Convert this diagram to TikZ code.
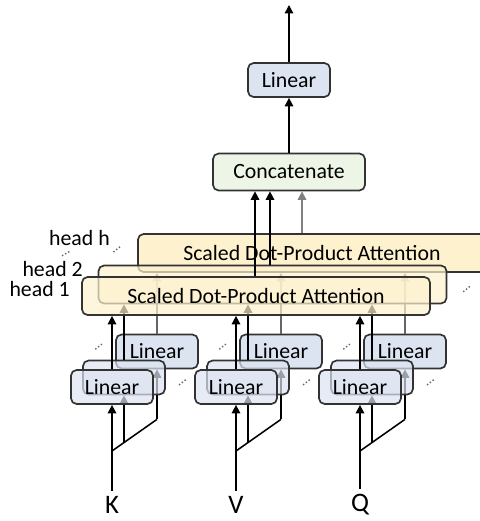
\documentclass[tikz,border=0pt]{standalone}
\usepackage{fontspec}
\setmainfont{Carlito}
\usepackage{tikz}
\usetikzlibrary{arrows.meta, positioning, calc}
\definecolor{linblue}{RGB}{220,227,241}
\definecolor{attyellow}{RGB}{253,241,206}
\definecolor{catgreen}{RGB}{237,245,231}

\begin{document}
\begin{tikzpicture}[x=0.025cm, y=-0.025cm, font=\fontsize{15.5}{18}\selectfont,
  box/.style={draw=black!80, line width=1.2pt, rounded corners=4pt, inner sep=0pt},
  linbox/.style={box, fill=linblue, minimum width=2.05cm, minimum height=0.85cm},
  attbox/.style={box, fill=attyellow, minimum width=8.7cm, minimum height=0.95cm},
  catbox/.style={box, fill=catgreen, minimum width=3.8cm, minimum height=0.925cm},
  ghost/.style={fill opacity=0.7, text opacity=1},
  flow/.style={line width=1.1pt, -{Triangle[length=6pt,width=6pt]}},
  wire/.style={line width=1.1pt},
  dots/.style={line width=1pt, black!60, dash pattern=on 1pt off 1.5pt}]
  \useasboundingbox (0,0) rectangle (480,521);

  % head h, at the back
  \coordinate (a1) at (256,296);
  \node[attbox] (atth) at ($(a1)+(56,-43)$) {Scaled Dot-Product Attention};

  % inputs and the back row of linear layers
  \foreach \n/\x in {K/112, V/236, Q/360} {
    \node[font=\fontsize{19}{22}\selectfont, inner sep=4pt] (in\n) at (\x,505) {\n};
    \coordinate (f\n) at (\x,387);
    \coordinate (br\n) at (\x,451);
    \node[linbox] (linh\n) at ($(f\n)+(45,-35.5)$) {Linear};
    \coordinate (kn\n) at ($(linh\n.south)+(0,50)$);
    \draw[wire] (br\n) -- (kn\n);
    \draw[flow] (kn\n) -- (linh\n.south);
    \draw[flow, black!60] (linh\n.north) -- (linh\n.north |- atth.south);
  }

  % head 2
  \node[attbox, ghost] (att2) at ($(a1)+(16.5,-11.5)$) {};
  \draw[dots] ($(att2.north west)!0.4!(atth.north west)$) -- ($(att2.north west)!0.6!(atth.north west)$);
  \draw[dots] ($(att2.south east)!0.4!(atth.south east)$) -- ($(att2.south east)!0.6!(atth.south east)$);
  \foreach \n in {K,V,Q} {
    \node[linbox, ghost] (lin2\n) at ($(f\n)+(12,-9.5)$) {};
    \draw[dots] ($(lin2\n.north west)!0.4!(linh\n.north west)$) -- ($(lin2\n.north west)!0.6!(linh\n.north west)$);
    \draw[dots] ($(lin2\n.south east)!0.4!(linh\n.south east)$) -- ($(lin2\n.south east)!0.6!(linh\n.south east)$);
    \draw[flow] ($(br\n)!0.267!(kn\n)$) -- (lin2\n.south);
    \draw[flow] (lin2\n.north) -- (lin2\n.north |- att2.south);
  }

  % head 1, in front
  \node[attbox, ghost] (att1) at (a1) {Scaled Dot-Product Attention};
  \foreach \n in {K,V,Q} {
    \node[linbox, ghost] (lin1\n) at (f\n) {Linear};
    \draw[flow] (in\n) -- (lin1\n);
    \draw[flow] (lin1\n) -- (lin1\n |- att1.south);
  }

  % labels of the heads
  \node[anchor=east, inner sep=0pt] (hl1) at (70,289) {head 1};
  \node[anchor=east, inner sep=0pt] (hl2) at (83,269) {head 2};
  \node[anchor=east, inner sep=0pt] (hlh) at (110,238) {head h};
  \draw[dots] ($(hl2.north)!0.35!(hlh.south)$) -- ($(hl2.north)!0.65!(hlh.south)$);

  % concat and output
  \node[catbox] (cat) at (289,172) {Concatenate};
  \node[linbox] (out) at (289,80) {Linear};
  \coordinate (top) at (289,5);
  \coordinate (c1) at ($(cat.south)+(-34,0)$);
  \coordinate (c2) at ($(cat.south)+(-19,0)$);
  \coordinate (ch) at ($(cat.south)+(13,0)$);
  \draw[flow] (c1 |- att1.north) -- (c1);
  \draw[flow] (c2 |- att2.north) -- (c2);
  \draw[flow, black!50] (ch |- atth.north) -- (ch);
  \draw[flow] (cat) -- (out);
  \draw[flow] (out) -- (top);
\end{tikzpicture}
\end{document}
